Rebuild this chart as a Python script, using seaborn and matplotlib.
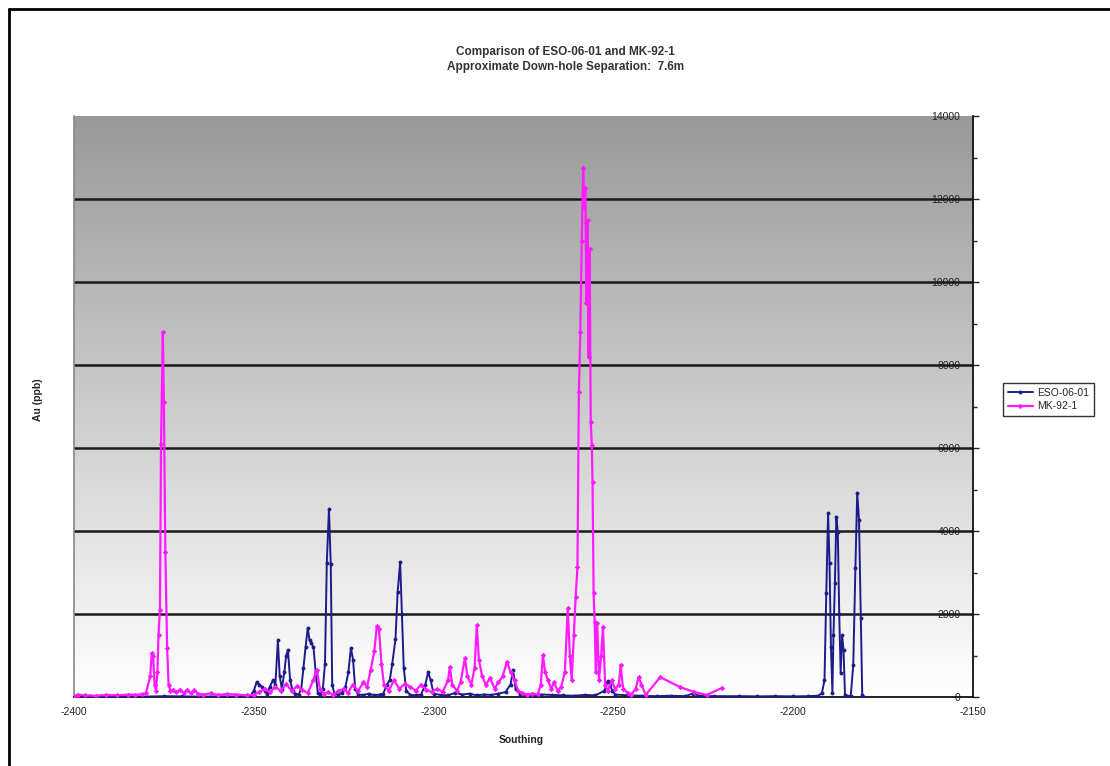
import numpy as np
import matplotlib
matplotlib.use("Agg")
import matplotlib.pyplot as plt
from matplotlib.lines import Line2D
import seaborn as sns

# ---- data ----
mk_x = [-2400, -2399, -2397, -2394, -2391, -2388, -2385, -2383, -2381, -2380,
        -2378.8, -2378.4, -2378.0, -2377.6, -2377.2, -2376.8, -2376.5, -2376.1, -2375.8, -2375.3,
        -2375.0, -2374.6, -2374.1, -2373.7, -2373.2, -2372.5, -2371.5, -2370.6, -2369.5, -2368.6,
        -2367.5, -2366.6, -2365.5, -2364, -2362, -2360, -2357.5, -2355, -2352, -2350,
        -2348.5, -2347, -2345.5, -2344, -2342.5, -2341, -2339.5, -2338, -2336.5, -2335,
        -2333.5, -2332.5, -2331.6, -2330.5, -2329.5, -2328, -2326.5, -2325, -2323.8, -2322.5,
        -2321, -2319.5, -2318.5, -2317.5, -2316.5, -2315.8, -2315.2, -2314.5, -2313.8, -2312.5,
        -2311, -2309.5, -2308, -2306.5, -2305, -2303.5, -2302, -2300.5,
        -2299, -2297.5, -2296, -2295.5, -2294.8, -2293.5, -2292.5, -2291.3, -2290.6, -2289.5,
        -2288.6, -2288.0, -2287.4, -2286.5, -2285.5, -2284.3, -2283, -2282, -2280.8, -2279.6,
        -2278.6, -2277.5, -2276.5, -2275.5, -2274, -2272.5, -2271, -2270.2, -2269.6, -2269,
        -2268.2, -2267.3, -2266.5, -2265.5, -2264.5, -2263.5, -2262.7, -2262.1, -2261.6, -2261.0,
        -2260.5, -2260.0, -2259.6, -2259.2, -2258.8, -2258.4, -2258.1, -2257.8, -2257.5, -2257.2,
        -2256.9, -2256.6, -2256.3, -2256.0, -2255.8, -2255.5, -2255.2, -2254.9, -2254.5, -2254.0,
        -2253.4, -2252.9, -2252.3, -2251.5, -2250.5, -2249.5, -2248.5, -2248.0, -2247.3, -2246,
        -2245, -2243.8, -2243.0, -2242.2, -2241, -2237, -2231.5, -2227.5, -2224, -2219.8]
mk_y = [20, 60, 40, 30, 50, 40, 60, 50, 70, 90,
        500, 1050, 1000, 300, 150, 600, 1500, 2100, 6100, 8800,
        7100, 3500, 1180, 300, 150, 170, 120, 180, 100, 170,
        90, 160, 80, 60, 90, 50, 70, 60, 40, 50,
        120, 200, 110, 250, 140, 320, 150, 260, 180, 90,
        400, 650, 200, 80, 120, 60, 140, 200, 100, 300,
        150, 350, 250, 650, 1100, 1700, 1650, 800, 300, 150,
        400, 200, 320, 250, 150, 300, 180, 120,
        200, 120, 400, 720, 300, 150, 350, 940, 500, 300,
        700, 1730, 900, 500, 300, 450, 200, 350, 500, 850,
        600, 400, 150, 100, 60, 80, 70, 300, 1010, 600,
        400, 200, 350, 150, 250, 600, 2140, 1000, 400, 1500,
        2400, 3130, 7350, 8800, 11000, 12750, 11800, 12270, 9500, 11500,
        8200, 10800, 6630, 6070, 5180, 2500, 1800, 600, 1780, 400,
        1000, 1690, 300, 150, 400, 200, 300, 770, 200, 100,
        60, 200, 480, 300, 50, 480, 240, 120, 50, 220]

eso_x = [-2400, -2395.5, -2390, -2385, -2380, -2375, -2370, -2365, -2360, -2355, -2351,
         -2350, -2349.2, -2348.5, -2347.8, -2347, -2346.3, -2345.5, -2344.7, -2344.0, -2343.3,
         -2342.8, -2342.2, -2341.5, -2341, -2340.5, -2339.9, -2339.2, -2338.5, -2337.5, -2336.8,
         -2336.2, -2335.6, -2335.0, -2334.5, -2334, -2333.4, -2332.8, -2332.2, -2331.5, -2330.8,
         -2330.2, -2329.7, -2329.1, -2328.6, -2328.2, -2327.6, -2326.5, -2325.5, -2324.5, -2323.7,
         -2323.0, -2322.4, -2321.8, -2321, -2319.5, -2318, -2316.5, -2315, -2314, -2313,
         -2312.2, -2311.5, -2310.6, -2310.0, -2309.3, -2308.8, -2308.3, -2307.6, -2306.5, -2305,
         -2303.5, -2302.3, -2301.5, -2300.8, -2300, -2298, -2296, -2294, -2292, -2290,
         -2288, -2286, -2284, -2282, -2280, -2278.6, -2277.9, -2277.2, -2276, -2273,
         -2270, -2267, -2264, -2261, -2258, -2255, -2252.5, -2251.6, -2251.0, -2250.3,
         -2249.5, -2246, -2242, -2238, -2234, -2230, -2228, -2226, -2222, -2215,
         -2210, -2205, -2200, -2196, -2193, -2192, -2191.3, -2190.8, -2190.3, -2189.9,
         -2189.5, -2189.1, -2188.8, -2188.4, -2188.0, -2187.6, -2187.2, -2186.8, -2186.4, -2186.0,
         -2185.6, -2185, -2184, -2183.3, -2182.7, -2182.2, -2181.7, -2181.2, -2180.8, -2180.4]
eso_y = [10, 20, 10, 15, 10, 20, 15, 10, 15, 10, 20,
         150, 360, 300, 250, 150, 80, 250, 400, 300, 1370,
         500, 200, 600, 1000, 1130, 400, 150, 80, 60, 200,
         700, 1200, 1660, 1370, 1300, 1200, 600, 100, 50, 200,
         800, 3230, 4530, 3200, 300, 80, 60, 100, 250, 600,
         1180, 900, 200, 60, 50, 80, 40, 60, 80, 300,
         400, 800, 1400, 2530, 3250, 2000, 700, 150, 50, 40,
         60, 300, 600, 400, 80, 50, 40, 100, 60, 80,
         40, 60, 50, 80, 120, 300, 650, 200, 60, 40,
         60, 50, 40, 30, 50, 40, 150, 380, 300, 150,
         60, 40, 30, 20, 30, 20, 80, 30, 20, 20,
         15, 20, 15, 20, 30, 100, 400, 2500, 4430, 3230,
         1200, 100, 1500, 2750, 4340, 3980, 2000, 580, 1490, 1130,
         60, 20, 30, 770, 3110, 4920, 4270, 1900, 50, 0]

x_ticks = [-2400, -2350, -2300, -2250, -2200, -2150]
y_ticks = [0, 2000, 4000, 6000, 8000, 10000, 12000, 14000]

sns.set_style("white")
plt.rcParams['font.family'] = ['Liberation Sans', 'DejaVu Sans']

W, H = 1110, 766
fig = plt.figure(figsize=(W / 100, H / 100), dpi=100)
ax = fig.add_axes([74 / W, 1 - 697 / H, (973 - 74) / W, (697 - 116) / H])

# vertical gradient background: grey (#999) at top to white at bottom
g = np.linspace(0.60, 1.0, 256).reshape(-1, 1, 1)
bg = np.repeat(g, 3, axis=2)
ax.imshow(bg, extent=[0, 1, 0, 1], transform=ax.transAxes, aspect="auto",
          origin="upper", zorder=0, interpolation="bilinear")

ax.set_xlim(-2400, -2150)
ax.set_ylim(0, 14000)

for gl in y_ticks[1:-1]:
    ax.axhline(gl, color="#1a1a1a", lw=1.8, zorder=1)

sns.lineplot(x=eso_x, y=eso_y, ax=ax, color="#1c1c8c", lw=1.4, marker="o",
             markersize=2.8, markeredgewidth=0, estimator=None, sort=False,
             label="ESO-06-01", zorder=3)
sns.lineplot(x=mk_x, y=mk_y, ax=ax, color="#ff1aff", lw=1.6, marker="D",
             markersize=2.8, markeredgewidth=0, estimator=None, sort=False,
             label="MK-92-1", zorder=4)

ax.set_xticks(x_ticks)
ax.set_xticklabels([str(v) for v in x_ticks])
ax.set_yticks(y_ticks)
ax.set_yticklabels([str(v) for v in y_ticks])
ax.set_yticks(np.arange(1000, 14000, 2000), minor=True)

ax.yaxis.tick_right()
ax.tick_params(axis="y", which="major", right=True, left=False, direction="out",
               length=4, width=1, labelsize=7.5, pad=-13, colors="#222222")
ax.tick_params(axis="y", which="minor", right=True, left=False, direction="out",
               length=3, width=1)
for lab in ax.get_yticklabels():
    lab.set_horizontalalignment("right")
ax.tick_params(axis="x", direction="out", length=4, width=1, labelsize=7.5,
               pad=3, colors="#222222")

ax.spines["top"].set_visible(False)
ax.spines["left"].set_color("#888888")
ax.spines["left"].set_linewidth(1.2)
ax.spines["right"].set_color("#111111")
ax.spines["right"].set_linewidth(1.3)
ax.spines["bottom"].set_color("#111111")
ax.spines["bottom"].set_linewidth(1.3)

ax.set_xlabel("")
ax.set_ylabel("")
fig.text(521 / W, 1 - 740 / H, "Southing", ha="center", va="center",
         fontsize=7.5, fontweight="bold", color="#222222")
fig.text(38 / W, 1 - 400 / H, "Au (ppb)", ha="center", va="center",
         rotation=90, fontsize=7.5, fontweight="bold", color="#222222")
fig.text(565 / W, 1 - 52 / H, "Comparison of ESO-06-01 and MK-92-1",
         ha="center", va="center", fontsize=8.5, fontweight="bold", color="#333333")
fig.text(566 / W, 1 - 67 / H, "Approximate Down-hole Separation:  7.6m",
         ha="center", va="center", fontsize=8.5, fontweight="bold", color="#333333")

leg = ax.legend(loc="upper left", bbox_to_anchor=(1003 / W, 1 - 383 / H),
                bbox_transform=fig.transFigure, frameon=True, fancybox=False,
                fontsize=7.5, handlelength=2.4, borderpad=0.45, labelspacing=0.35,
                handletextpad=0.4, borderaxespad=0)
leg.get_frame().set_edgecolor("black")
leg.get_frame().set_linewidth(1)

# partial outer frame (left and top edges only)
fig.add_artist(Line2D([9 / W, 9 / W], [0, 1 - 9 / H], transform=fig.transFigure,
                      color="black", lw=2))
fig.add_artist(Line2D([9 / W, 1], [1 - 9 / H, 1 - 9 / H], transform=fig.transFigure,
                      color="black", lw=2))

fig.savefig("out.png", dpi=100)
